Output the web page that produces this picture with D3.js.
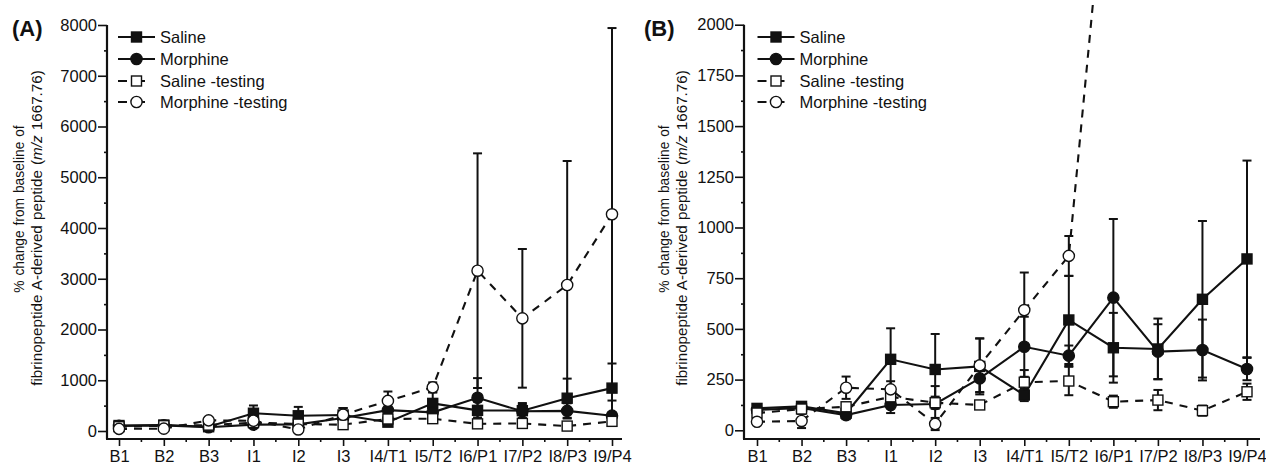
<!DOCTYPE html>
<html>
<head>
<meta charset="utf-8">
<script src="https://cdn.jsdelivr.net/npm/d3@7"></script>
<style>
  body { margin: 0; background: #fff; }
  svg { display: block; font-family: "Liberation Sans", Arial, sans-serif; }
</style>
</head>
<body>
<script>
const width = 1266;
const height = 467;

const categories = ['B1', 'B2', 'B3', 'I1', 'I2', 'I3', 'I4/T1', 'I5/T2', 'I6/P1', 'I7/P2', 'I8/P3', 'I9/P4'];

const saline          = [108, 118,  84, 350, 300, 315, 174, 544,  407,  401,  646,  845];
const salineErr       = [ 15,  15,  25, 153, 175, 138,  30, 217,  172,  150,  386,  485];
const morphine        = [100, 110,  75, 125, 130, 256, 412, 368,  654,  388,  396,  302];
const morphineErr     = [ 12,  12,  20,  40,  88,  67, 148,  50,  388,  135,  150,   55];
const salineTest      = [ 85, 105, 116, 165, 136, 125, 237, 243,  141,  149,   97,  190];
const salineTestErr   = [ 15,  15,  20,  30,  30,  15,  60,  70,   30,   50,   25,   40];
const morphineTest    = [ 42,  46, 210, 202,  31, 320, 593, 860, 3159, 2220, 2877, 4270];
const morphineTestErr = [ 10,  35,  55,  40,  30, 133, 185,  98, 2312, 1366, 2443, 3670];

const seriesNames = ['Saline', 'Morphine', 'Saline -testing', 'Morphine -testing'];

const ticksA = [0, 1000, 2000, 3000, 4000, 5000, 6000, 7000, 8000];
const ticksB = [0, 250, 500, 750, 1000, 1250, 1500, 1750, 2000];

const series = [
  { name: seriesNames[0], values: saline,       err: salineErr,       shape: 'square', filled: true,  dashed: false },
  { name: seriesNames[1], values: morphine,     err: morphineErr,     shape: 'circle', filled: true,  dashed: false },
  { name: seriesNames[2], values: salineTest,   err: salineTestErr,   shape: 'square', filled: false, dashed: true },
  { name: seriesNames[3], values: morphineTest, err: morphineTestErr, shape: 'circle', filled: false, dashed: true },
];

const fontSize = '16.5px';

const svg = d3.select('body')
  .append('svg')
    .attr('width', width)
    .attr('height', height)
    .attr('viewBox', [0, 0, width, height].join(' '));

const marker = (g, s, cx, cy) => {
  const fill = s.filled ? '#111' : '#fff';
  if (s.shape === 'square') {
    g.append('rect')
      .attr('x', cx - 5).attr('y', cy - 5)
      .attr('width', 10).attr('height', 10)
      .attr('fill', fill).attr('stroke', '#111').attr('stroke-width', 1.4);
  } else {
    g.append('circle')
      .attr('cx', cx).attr('cy', cy).attr('r', 5.6)
      .attr('fill', fill).attr('stroke', '#111').attr('stroke-width', 1.4);
  }
};

const panel = (p) => {

  const x = d3.scalePoint()
    .domain(categories)
    .range(p.xRange);

  const y = d3.scaleLinear()
    .domain([0, p.max])
    .range(p.yRange);

  const axisY = 439;
  const g = svg.append('g');

  // y axis
  const yAxis = d3.axisLeft(y)
    .tickValues(p.ticks)
    .tickFormat(d3.format('d'))
    .tickSizeInner(9)
    .tickSizeOuter(0)
    .tickPadding(1);

  const yMinor = d3.axisLeft(y)
    .tickValues(d3.range(0, p.ticks.length - 1).map(i => (p.ticks[i] + p.ticks[i + 1]) / 2))
    .tickSize(3)
    .tickFormat('');

  [yAxis, yMinor].forEach(a => {
    const ag = g.append('g')
      .attr('transform', `translate(${p.axisX}, 0)`)
      .call(a);
    ag.select('.domain').remove();
    ag.selectAll('line').attr('stroke', '#111').attr('stroke-width', 1.6);
    ag.selectAll('text')
      .attr('fill', '#111')
      .style('font-size', fontSize)
      .style('font-family', '"Liberation Sans", Arial, sans-serif');
  });

  // x axis
  const xAxis = d3.axisBottom(x)
    .tickSizeInner(7)
    .tickSizeOuter(0)
    .tickPadding(4);

  const xg = g.append('g')
    .attr('transform', `translate(0, ${axisY})`)
    .call(xAxis);
  xg.select('.domain').remove();
  xg.selectAll('line').attr('stroke', '#111').attr('stroke-width', 1.6);
  xg.selectAll('text')
    .attr('fill', '#111')
    .style('font-size', fontSize)
    .style('font-family', '"Liberation Sans", Arial, sans-serif');

  const step = x.step();
  g.append('g')
    .selectAll('line')
    .data(categories.slice(0, -1))
    .enter()
      .append('line')
      .attr('x1', d => x(d) + step / 2)
      .attr('x2', d => x(d) + step / 2)
      .attr('y1', axisY)
      .attr('y2', axisY + 3)
      .attr('stroke', '#111')
      .attr('stroke-width', 1.6);

  // spines
  g.append('line')
    .attr('x1', p.axisX).attr('x2', p.axisX)
    .attr('y1', y(p.max)).attr('y2', axisY)
    .attr('stroke', '#111').attr('stroke-width', 2.2);
  g.append('line')
    .attr('x1', p.axisX - 1).attr('x2', p.xEnd)
    .attr('y1', axisY).attr('y2', axisY)
    .attr('stroke', '#111').attr('stroke-width', 2.2);

  // error bars
  const bars = g.append('g');
  series.forEach(s => {
    s.values.forEach((v, i) => {
      if (v > p.max) return;
      const cx = x(categories[i]);
      const lo = Math.max(0, v - s.err[i]);
      const hi = Math.min(p.max, v + s.err[i]);
      bars.append('line')
        .attr('x1', cx).attr('x2', cx)
        .attr('y1', y(lo)).attr('y2', y(hi))
        .attr('stroke', '#111').attr('stroke-width', 2);
      [v - s.err[i], v + s.err[i]].forEach(e => {
        if (e < 0 || e > p.max) return;
        bars.append('line')
          .attr('x1', cx - 4.5).attr('x2', cx + 4.5)
          .attr('y1', y(e)).attr('y2', y(e))
          .attr('stroke', '#111').attr('stroke-width', 2);
      });
    });
  });

  // lines
  const line = d3.line()
    .x((d, i) => x(categories[i]))
    .y(d => y(d));

  series.forEach(s => {
    g.append('path')
      .attr('d', line(s.values))
      .attr('fill', 'none')
      .attr('stroke', '#111')
      .attr('stroke-width', 2.1)
      .attr('stroke-dasharray', s.dashed ? '8,7' : null);
  });

  // markers
  series.forEach(s => {
    const mg = g.append('g');
    s.values.forEach((v, i) => {
      if (v > p.max) return;
      marker(mg, s, x(categories[i]), y(v));
    });
  });

  // legend
  const lg = g.append('g').attr('transform', `translate(${p.legendX}, 0)`);
  const rows = [37, 59, 81, 102];
  series.forEach((s, i) => {
    lg.append('line')
      .attr('x1', 0).attr('x2', s.dashed ? 27 : 37)
      .attr('y1', rows[i]).attr('y2', rows[i])
      .attr('stroke', '#111').attr('stroke-width', 2)
      .attr('stroke-dasharray', s.dashed ? '9,5,13,5' : null);
    marker(lg, s, 18.5, rows[i]);
    lg.append('text')
      .attr('x', 42)
      .attr('y', rows[i])
      .attr('dy', '0.35em')
      .attr('fill', '#111')
      .style('font-size', fontSize)
      .text(s.name);
  });

  // panel label
  g.append('text')
    .attr('x', p.labelX)
    .attr('y', 36)
    .attr('fill', '#111')
    .style('font-size', '22px')
    .style('font-weight', 'bold')
    .text(p.label);

  // y title
  g.append('text')
    .attr('transform', `translate(${p.titleX[0]}, 209) rotate(-90)`)
    .attr('text-anchor', 'middle')
    .attr('fill', '#111')
    .style('font-size', '13.8px')
    .style('word-spacing', '1px')
    .text('% change from baseline of');
  const t2 = g.append('text')
    .attr('transform', `translate(${p.titleX[1]}, 228) rotate(-90)`)
    .attr('text-anchor', 'middle')
    .attr('fill', '#111')
    .style('font-size', '15.2px')
    .style('word-spacing', '1px');
  t2.append('tspan').text('fibrinopeptide A-derived peptide (');
  t2.append('tspan').style('font-style', 'italic').text('m/z');
  t2.append('tspan').text(' 1667.76)');
};

panel({
  label: '(A)', labelX: 12,
  xRange: [119, 612], yRange: [431, 25], max: 8000, ticks: ticksA,
  axisX: 107, xEnd: 622, legendX: 118, titleX: [24, 41.5],
});

panel({
  label: '(B)', labelX: 644,
  xRange: [757, 1247], yRange: [430.3, 24.7], max: 2000, ticks: ticksB,
  axisX: 744, xEnd: 1260, legendX: 757.5, titleX: [669, 687],
});
</script>
</body>
</html>
